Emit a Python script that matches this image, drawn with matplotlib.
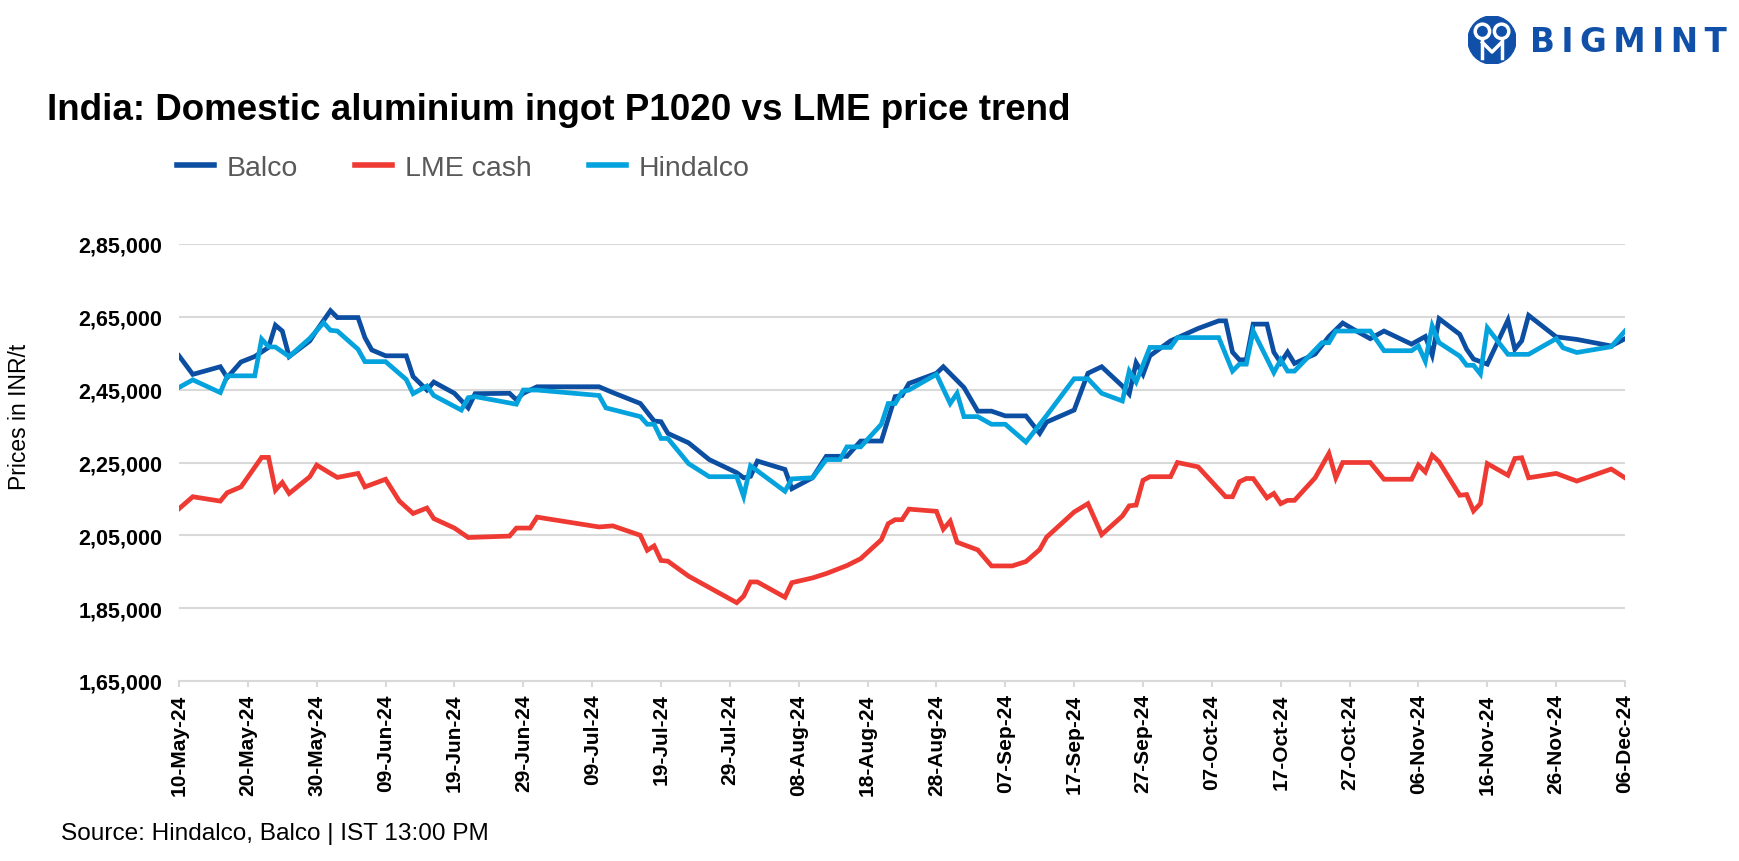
import pandas as pd
import matplotlib
matplotlib.use("Agg")
import matplotlib.pyplot as plt
import matplotlib.dates as mdates
from matplotlib.ticker import FuncFormatter
from matplotlib.lines import Line2D
from matplotlib.patches import Circle

plt.rcParams["font.family"] = ["Liberation Sans", "DejaVu Sans"]

# Prices in INR/t (thousands)
balco_dates = [
    "2024-05-10", "2024-05-12", "2024-05-16", "2024-05-17", "2024-05-19", "2024-05-21", "2024-05-23", "2024-05-24", "2024-05-25", "2024-05-26",
    "2024-05-29", "2024-05-30", "2024-06-01", "2024-06-02", "2024-06-05", "2024-06-06", "2024-06-07", "2024-06-09", "2024-06-12", "2024-06-13",
    "2024-06-15", "2024-06-16", "2024-06-19", "2024-06-21", "2024-06-22", "2024-06-27", "2024-06-28", "2024-06-29", "2024-07-01", "2024-07-10",
    "2024-07-12", "2024-07-16", "2024-07-18", "2024-07-19", "2024-07-20", "2024-07-23", "2024-07-26", "2024-07-30", "2024-07-31", "2024-08-01",
    "2024-08-02", "2024-08-06", "2024-08-07", "2024-08-10", "2024-08-12", "2024-08-15", "2024-08-17", "2024-08-20", "2024-08-22", "2024-08-23",
    "2024-08-24", "2024-08-28", "2024-08-29", "2024-09-01", "2024-09-03", "2024-09-05", "2024-09-07", "2024-09-10", "2024-09-12", "2024-09-13",
    "2024-09-17", "2024-09-19", "2024-09-21", "2024-09-24", "2024-09-25", "2024-09-26", "2024-09-27", "2024-09-28", "2024-10-01", "2024-10-05",
    "2024-10-08", "2024-10-09", "2024-10-10", "2024-10-11", "2024-10-12", "2024-10-13", "2024-10-15", "2024-10-16", "2024-10-17", "2024-10-18",
    "2024-10-19", "2024-10-22", "2024-10-24", "2024-10-26", "2024-10-28", "2024-10-30", "2024-11-01", "2024-11-05", "2024-11-07", "2024-11-08",
    "2024-11-09", "2024-11-12", "2024-11-13", "2024-11-14", "2024-11-16", "2024-11-19", "2024-11-20", "2024-11-21", "2024-11-22", "2024-11-26",
    "2024-11-29", "2024-12-04", "2024-12-06",
]
balco_values = [
    254.3, 249.2, 251.3, 248.3, 252.6, 254.1, 256.6, 262.7, 261.1, 254.1,
    258.4, 261.3, 266.7, 264.8, 264.8, 259.3, 255.9, 254.3, 254.3, 248.6,
    244.9, 247.1, 244.0, 240.0, 243.9, 244.0, 242.2, 244.0, 245.8, 245.8,
    244.2, 241.2, 236.4, 236.2, 233.0, 230.4, 225.8, 222.2, 220.8, 221.2,
    225.4, 223.1, 217.8, 220.8, 226.7, 226.7, 230.9, 230.9, 243.1, 243.4,
    246.7, 249.5, 251.3, 245.6, 239.1, 239.1, 237.8, 237.8, 233.0, 236.1,
    239.4, 249.5, 251.3, 246.0, 243.8, 252.4, 249.2, 254.3, 258.4, 261.8,
    263.9, 263.9, 255.3, 253.2, 253.2, 263.0, 263.0, 255.3, 252.4, 255.3,
    252.2, 254.8, 259.6, 263.3, 261.1, 259.0, 261.1, 257.5, 259.6, 254.5,
    264.5, 260.2, 256.1, 253.4, 252.0, 264.1, 256.1, 258.4, 265.4, 259.5,
    258.8, 257.0, 259.0,
]

lme_dates = [
    "2024-05-10", "2024-05-12", "2024-05-16", "2024-05-17", "2024-05-19", "2024-05-22", "2024-05-23", "2024-05-24", "2024-05-25", "2024-05-26",
    "2024-05-29", "2024-05-30", "2024-06-01", "2024-06-02", "2024-06-05", "2024-06-06", "2024-06-09", "2024-06-11", "2024-06-13", "2024-06-15",
    "2024-06-16", "2024-06-19", "2024-06-21", "2024-06-27", "2024-06-28", "2024-06-30", "2024-07-01", "2024-07-10", "2024-07-12", "2024-07-16",
    "2024-07-17", "2024-07-18", "2024-07-19", "2024-07-20", "2024-07-23", "2024-07-30", "2024-07-31", "2024-08-01", "2024-08-02", "2024-08-06",
    "2024-08-07", "2024-08-10", "2024-08-12", "2024-08-15", "2024-08-17", "2024-08-20", "2024-08-21", "2024-08-22", "2024-08-23", "2024-08-24",
    "2024-08-28", "2024-08-29", "2024-08-30", "2024-08-31", "2024-09-03", "2024-09-05", "2024-09-08", "2024-09-10", "2024-09-12", "2024-09-13",
    "2024-09-17", "2024-09-19", "2024-09-21", "2024-09-24", "2024-09-25", "2024-09-26", "2024-09-27", "2024-09-28", "2024-10-01", "2024-10-02",
    "2024-10-05", "2024-10-09", "2024-10-10", "2024-10-11", "2024-10-12", "2024-10-13", "2024-10-15", "2024-10-16", "2024-10-17", "2024-10-18",
    "2024-10-19", "2024-10-22", "2024-10-24", "2024-10-25", "2024-10-26", "2024-10-30", "2024-11-01", "2024-11-05", "2024-11-06", "2024-11-07",
    "2024-11-08", "2024-11-09", "2024-11-12", "2024-11-13", "2024-11-14", "2024-11-15", "2024-11-16", "2024-11-19", "2024-11-20", "2024-11-21",
    "2024-11-22", "2024-11-26", "2024-11-29", "2024-12-04", "2024-12-06",
]
lme_values = [
    212.3, 215.6, 214.4, 216.7, 218.3, 226.4, 226.4, 217.4, 219.5, 216.5,
    221.1, 224.3, 222.0, 220.9, 222.0, 218.3, 220.4, 214.4, 211.0, 212.5,
    209.6, 207.0, 204.4, 204.8, 207.0, 207.0, 210.0, 207.3, 207.6, 205.0,
    200.9, 202.1, 198.1, 197.9, 193.8, 186.5, 188.3, 192.2, 192.2, 188.0,
    192.0, 193.3, 194.5, 196.7, 198.6, 203.8, 208.2, 209.3, 209.3, 212.2,
    211.6, 206.7, 208.9, 203.1, 201.0, 196.6, 196.6, 197.8, 201.1, 204.5,
    211.4, 213.7, 205.2, 210.3, 213.1, 213.3, 220.1, 221.1, 221.1, 225.0,
    223.8, 215.6, 215.6, 219.7, 220.6, 220.6, 215.3, 216.5, 213.7, 214.6,
    214.6, 220.8, 227.5, 220.8, 225.0, 225.0, 220.4, 220.4, 224.3, 222.4,
    227.0, 225.2, 216.0, 216.2, 211.7, 213.7, 224.7, 221.5, 226.1, 226.3,
    220.8, 222.0, 219.9, 223.2, 220.8,
]

hindalco_dates = [
    "2024-05-10", "2024-05-12", "2024-05-16", "2024-05-17", "2024-05-21", "2024-05-22", "2024-05-23", "2024-05-24", "2024-05-26", "2024-05-29",
    "2024-05-31", "2024-06-01", "2024-06-02", "2024-06-05", "2024-06-06", "2024-06-09", "2024-06-12", "2024-06-13", "2024-06-15", "2024-06-16",
    "2024-06-20", "2024-06-21", "2024-06-22", "2024-06-28", "2024-06-29", "2024-07-01", "2024-07-10", "2024-07-11", "2024-07-16", "2024-07-17",
    "2024-07-18", "2024-07-19", "2024-07-20", "2024-07-23", "2024-07-26", "2024-07-30", "2024-07-31", "2024-08-01", "2024-08-06", "2024-08-07",
    "2024-08-10", "2024-08-12", "2024-08-14", "2024-08-15", "2024-08-17", "2024-08-20", "2024-08-21", "2024-08-22", "2024-08-23", "2024-08-24",
    "2024-08-28", "2024-08-30", "2024-08-31", "2024-09-01", "2024-09-03", "2024-09-05", "2024-09-07", "2024-09-10", "2024-09-13", "2024-09-17",
    "2024-09-19", "2024-09-21", "2024-09-24", "2024-09-25", "2024-09-26", "2024-09-28", "2024-10-01", "2024-10-02", "2024-10-08", "2024-10-10",
    "2024-10-11", "2024-10-12", "2024-10-13", "2024-10-16", "2024-10-17", "2024-10-18", "2024-10-19", "2024-10-23", "2024-10-24", "2024-10-25",
    "2024-10-30", "2024-11-01", "2024-11-05", "2024-11-06", "2024-11-07", "2024-11-08", "2024-11-09", "2024-11-12", "2024-11-13", "2024-11-14",
    "2024-11-15", "2024-11-16", "2024-11-19", "2024-11-22", "2024-11-26", "2024-11-27", "2024-11-29", "2024-12-04", "2024-12-06",
]
hindalco_values = [
    245.6, 247.7, 244.2, 248.8, 248.8, 258.9, 256.8, 256.7, 254.1, 259.1,
    263.4, 261.3, 261.1, 256.1, 252.7, 252.7, 247.8, 243.9, 246.0, 243.4,
    239.4, 242.8, 243.1, 241.0, 244.9, 244.9, 243.4, 240.0, 237.6, 235.5,
    235.5, 231.6, 231.6, 224.7, 221.1, 221.1, 215.7, 224.1, 217.1, 220.5,
    220.8, 225.8, 225.8, 229.3, 229.3, 235.5, 241.2, 241.2, 244.4, 244.9,
    249.2, 241.2, 244.0, 237.6, 237.6, 235.5, 235.5, 230.6, 237.9, 248.0,
    248.0, 244.0, 241.9, 250.1, 247.1, 256.6, 256.6, 259.3, 259.3, 250.1,
    252.0, 252.0, 261.1, 249.7, 253.2, 250.1, 250.1, 257.9, 257.9, 261.1,
    261.1, 255.7, 255.7, 257.0, 252.8, 262.5, 257.9, 254.2, 251.7, 251.7,
    249.3, 262.0, 254.7, 254.7, 259.0, 256.5, 255.2, 256.8, 261.1,
]

series_names = ["Balco", "LME cash", "Hindalco"]
series_colors = ["#0b4ea2", "#ee3a33", "#05a3de"]
y_ticks = [165000, 185000, 205000, 225000, 245000, 265000, 285000]

title = "India: Domestic aluminium ingot P1020 vs LME price trend"
source = "Source: Hindalco, Balco | IST 13:00 PM"


def indian_format(v, pos):
    # 265000 -> 2,65,000
    v = int(round(v))
    return f"{v // 100000},{(v % 100000) // 1000:02d},{v % 1000:03d}"


fig = plt.figure(figsize=(17.39, 8.62), dpi=100)
ax = fig.add_axes([179 / 1739, 1 - 682 / 862, 1446 / 1739, 437 / 862])

series = [
    (balco_dates, balco_values),
    (lme_dates, lme_values),
    (hindalco_dates, hindalco_values),
]
for (dates, values), name, color in zip(series, series_names, series_colors):
    x = pd.to_datetime(dates)
    y = [v * 1000 for v in values]
    ax.plot(x, y, color=color, lw=3.4, label=name, solid_joinstyle="miter")

# Axes styling
start = pd.Timestamp("2024-05-10")
end = pd.Timestamp("2024-12-06")
ax.set_xlim(start, end)
ax.set_ylim(y_ticks[0], y_ticks[-1])
ax.set_yticks(y_ticks)
ax.yaxis.set_major_formatter(FuncFormatter(indian_format))
ax.set_xticks(pd.date_range(start, end, freq="10D"))
ax.xaxis.set_major_formatter(mdates.DateFormatter("%d-%b-%y"))

ax.grid(axis="y", color="#d9d9d9", lw=1.5)
ax.set_axisbelow(True)
for side in ["top", "right", "left"]:
    ax.spines[side].set_visible(False)
ax.spines["bottom"].set_color("#d9d9d9")
ax.spines["bottom"].set_linewidth(1.5)

ax.tick_params(axis="y", length=0, pad=12, labelsize=15.5)
ax.tick_params(axis="x", length=4, width=1.5, color="#d9d9d9", pad=5,
               labelsize=15, labelrotation=90)
for lbl in ax.get_xticklabels() + ax.get_yticklabels():
    lbl.set_fontweight("bold")

# Legend
handles = [Line2D([], [], color=c, lw=4) for c in series_colors]
fig.legend(handles, series_names, loc="center left",
           bbox_to_anchor=(177 / 1739, 1 - 169 / 862), ncol=3, frameon=False,
           fontsize=20.5, handlelength=1.3, handletextpad=0.45,
           columnspacing=2.0, borderpad=0, borderaxespad=0,
           labelcolor="#595959")

# Texts
fig.text(47 / 1739, 1 - 111 / 862, title, fontsize=26.5, fontweight="bold",
         va="center", ha="left")
fig.text(20 / 1739, 1 - 417 / 862, "Prices in INR/t", rotation=90,
         fontsize=16.5, va="center", ha="center")
fig.text(61 / 1739, 1 - 834 / 862, source, fontsize=17.6, va="center", ha="left")

# BIGMINT logo (approximation)
logo_blue = "#1150a8"
icon = fig.add_axes([1468 / 1739, 1 - 65 / 862, 48 / 1739, 48 / 862])
icon.set_xlim(0, 1)
icon.set_ylim(0, 1)
icon.axis("off")
icon.add_patch(Circle((0.5, 0.5), 0.5, color=logo_blue))
for cx in [0.3, 0.7]:
    icon.add_patch(Circle((cx, 0.68), 0.15, facecolor=logo_blue,
                          edgecolor="white", lw=2.5))
    icon.plot([cx, cx], [0.5, 0.12], color="white", lw=2.5)
icon.plot([0.3, 0.5, 0.7], [0.45, 0.25, 0.45], color="white", lw=2.5)
fig.text(1530 / 1739, 1 - 42 / 862, "\u2009".join("BIGMINT"), fontsize=23.5,
         fontweight="bold", family="DejaVu Sans", color=logo_blue,
         va="center", ha="left")

plt.savefig("out.png", dpi=100)
plt.close()
